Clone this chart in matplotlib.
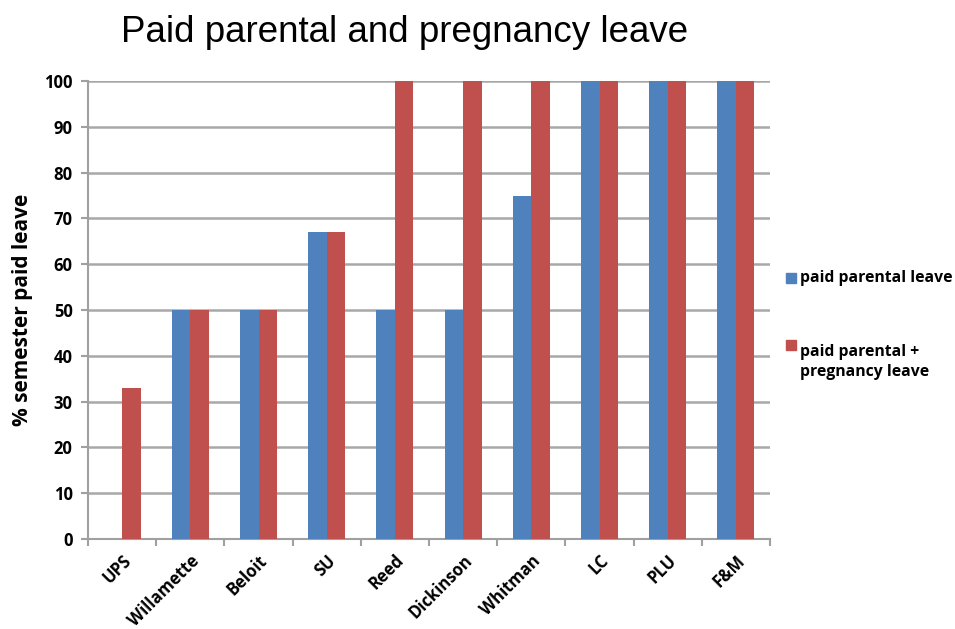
import matplotlib
matplotlib.use("Agg")
import matplotlib.pyplot as plt
from matplotlib.patches import Rectangle
import numpy as np

categories = ["UPS", "Willamette", "Beloit", "SU", "Reed", "Dickinson", "Whitman", "LC", "PLU", "F&M"]
parental = [0, 50, 50, 67, 50, 50, 75, 100, 100, 100]
parental_preg = [33, 50, 50, 67, 100, 100, 100, 100, 100, 100]
series_names = ["paid parental leave", "paid parental +\npregnancy leave"]
series_colors = ["#4F81BD", "#C0504D"]
yticks = list(range(0, 101, 10))

plt.rcParams['font.family'] = ['Open Sans', 'DejaVu Sans']

W, H = 955, 629
fig = plt.figure(figsize=(W/100, H/100), dpi=100)
ax = fig.add_axes([88/W, 1-539/H, (770-88)/W, (539-81)/H])

x = np.arange(len(categories))
w = 0.27
b1 = ax.bar(x - w/2, parental, w, color=series_colors[0], label=series_names[0], zorder=3)
b2 = ax.bar(x + w/2, parental_preg, w, color=series_colors[1], label=series_names[1], zorder=3)

ax.set_xlim(-0.5, len(categories) - 0.5)
ax.set_ylim(0, 100)
ax.set_yticks(yticks)
ax.set_yticklabels([str(t) for t in yticks], fontsize=12, fontweight='bold')
ax.set_xticks(x)
ax.set_xticklabels(categories, rotation=45, ha='right', rotation_mode='anchor', fontsize=12, fontweight='bold')
ax.tick_params(axis='x', length=0, pad=9)
ax.set_xticks(np.arange(-0.5, len(categories)), minor=True)
ax.tick_params(axis='x', which='minor', length=5, color='#a0a0a0', width=1.5)
ax.tick_params(axis='y', length=5, color='#a0a0a0', width=1.5, pad=6)

ax.yaxis.grid(True, color='#a8a8a8', linewidth=1.8, zorder=0)
for s in ['top', 'right']:
    ax.spines[s].set_visible(False)
for s in ['left', 'bottom']:
    ax.spines[s].set_color('#a0a0a0')
    ax.spines[s].set_linewidth(1.5)

ax.set_ylabel("% semester paid leave", fontsize=15, fontweight='bold', labelpad=8)

fig.text(405/W, 1-42/H, "Paid parental and pregnancy leave", fontsize=26.5,
         family=['Liberation Sans'], ha='center', va='baseline')

# legend (drawn manually to match the reference layout)
leg_items = [(273, 278), (340, 362)]  # (marker top px, text center px)
for (mtop, tcy), name, col in zip(leg_items, series_names, series_colors):
    fig.patches.append(Rectangle((786/W, 1-(mtop+10)/H), 10/W, 10/H,
                                 transform=fig.transFigure, color=col, figure=fig))
    fig.text(800/W, 1-tcy/H, name, fontsize=11.3, fontweight='bold',
             ha='left', va='center', linespacing=1.27)

fig.savefig("out.png", dpi=100)
